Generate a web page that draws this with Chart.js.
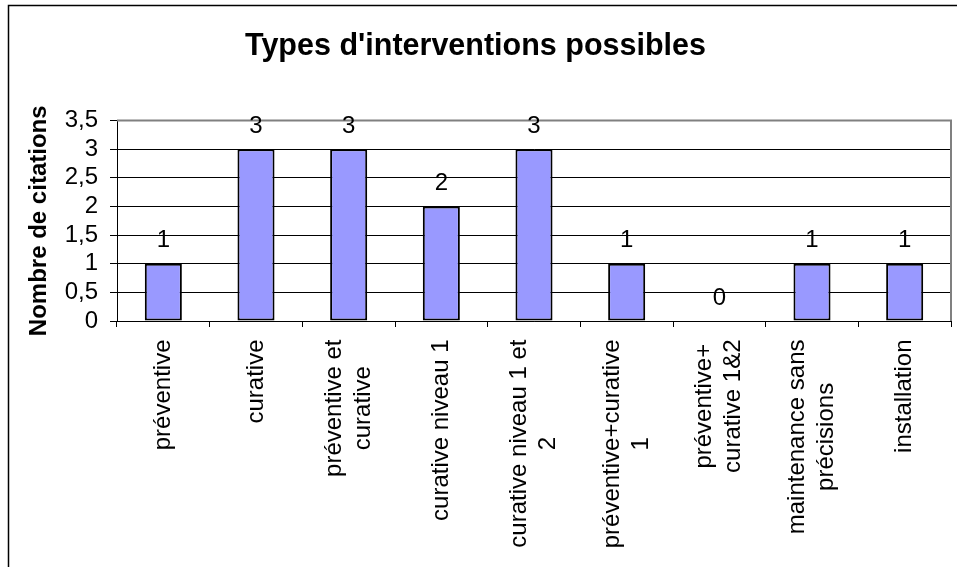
<!DOCTYPE html>
<html><head><meta charset="utf-8">
<script src="https://cdn.jsdelivr.net/npm/chart.js@4/dist/chart.umd.min.js"></script>
<style>html,body{margin:0;padding:0;background:#fff}#wrap{width:957px;height:567px;position:relative}</style>
</head><body><div id="wrap"><canvas id="c" width="957" height="567"></canvas></div>
<script>
const chartTitle = "Types d'interventions possibles";
const yAxisTitle = "Nombre de citations";
const categories = [
  ["préventive"],
  ["curative"],
  ["préventive et", "curative"],
  ["curative niveau 1"],
  ["curative niveau 1 et", "2"],
  ["préventive+curative", "1"],
  ["préventive+", "curative 1&2"],
  ["maintenance sans", "précisions"],
  ["installation"]
];
const values = [1, 3, 3, 2, 3, 1, 0, 1, 1];
const yTickLabels = ["0", "0,5", "1", "1,5", "2", "2,5", "3", "3,5"];

const FONT = "'Liberation Sans', Arial, sans-serif";

const decorPlugin = {
  id: 'decor',
  beforeDraw(chart) {
    const ctx = chart.ctx;
    ctx.save();
    ctx.fillStyle = '#fff';
    ctx.fillRect(0, 0, chart.width, chart.height);
    ctx.strokeStyle = '#000';
    ctx.lineWidth = 1.5;
    ctx.beginPath();
    ctx.moveTo(8.5, chart.height + 2);
    ctx.lineTo(8.5, 5.5);
    ctx.lineTo(chart.width + 2, 5.5);
    ctx.stroke();
    ctx.restore();
  },
  afterDraw(chart) {
    const ctx = chart.ctx;
    const a = chart.chartArea;
    ctx.save();
    // plot area border (top and right) in gray
    ctx.strokeStyle = '#808080';
    ctx.lineWidth = 2;
    ctx.beginPath();
    ctx.moveTo(a.left, a.top);
    ctx.lineTo(a.right, a.top);
    ctx.lineTo(a.right, a.bottom);
    ctx.stroke();

    // data labels
    ctx.fillStyle = '#000';
    ctx.font = '24px ' + FONT;
    ctx.textAlign = 'center';
    ctx.textBaseline = 'alphabetic';
    const meta = chart.getDatasetMeta(0);
    meta.data.forEach((bar, i) => {
      ctx.fillText(String(values[i]), bar.x, bar.y - 16.5);
    });

    // x category labels, rotated, lines centred on each other
    const xs = chart.scales.x;
    const y0 = xs.top + 18.5;
    const lh = 29;
    categories.forEach((lines, i) => {
      const x = xs.getPixelForValue(i);
      let maxW = 0;
      lines.forEach(l => { maxW = Math.max(maxW, ctx.measureText(l).width); });
      ctx.save();
      ctx.translate(x, y0);
      ctx.rotate(-Math.PI / 2);
      ctx.textAlign = 'center';
      ctx.textBaseline = 'middle';
      lines.forEach((l, k) => {
        ctx.fillText(l, -maxW / 2, (k - (lines.length - 1) / 2) * lh);
      });
      ctx.restore();
    });
    ctx.restore();
  }
};

new Chart(document.getElementById('c'), {
  type: 'bar',
  data: {
    labels: categories,
    datasets: [{
      data: values,
      backgroundColor: '#9999FF',
      borderColor: '#000',
      borderWidth: 2,
      borderSkipped: false,
      barPercentage: 0.4,
      categoryPercentage: 1.0
    }]
  },
  options: {
    responsive: false,
    animation: false,
    devicePixelRatio: 1,
    layout: { padding: { left: 0, right: 6, top: 0, bottom: 0 } },
    plugins: {
      legend: { display: false },
      tooltip: { enabled: false },
      title: {
        display: true,
        text: chartTitle,
        color: '#000',
        font: { family: FONT, size: 30.5, weight: 'bold', lineHeight: 1.2 },
        padding: { top: 28.5, bottom: 55.5 }
      }
    },
    scales: {
      x: {
        type: 'category',
        offset: true,
        ticks: { display: false },
        grid: { display: true, drawOnChartArea: false, drawTicks: true, tickLength: 6, color: '#000', lineWidth: 1, offset: true },
        border: { display: true, color: '#000', width: 1 },
        afterFit(scale) { scale.height = 246; }
      },
      y: {
        min: 0,
        max: 3.5,
        ticks: {
          stepSize: 0.5,
          autoSkip: false,
          color: '#000',
          padding: 12,
          font: { family: FONT, size: 24 },
          callback: (v, i) => yTickLabels[i]
        },
        grid: { color: '#000', lineWidth: 1, tickLength: 7, drawTicks: true },
        border: { display: true, color: '#000', width: 1 },
        title: {
          display: true,
          text: yAxisTitle,
          color: '#000',
          font: { family: FONT, size: 24, weight: 'bold', lineHeight: 1.2 },
          padding: { top: 24.5, bottom: 0 }
        },
        afterFit(scale) { scale.width = 117; }
      }
    }
  },
  plugins: [decorPlugin]
});
</script>
</body></html>
